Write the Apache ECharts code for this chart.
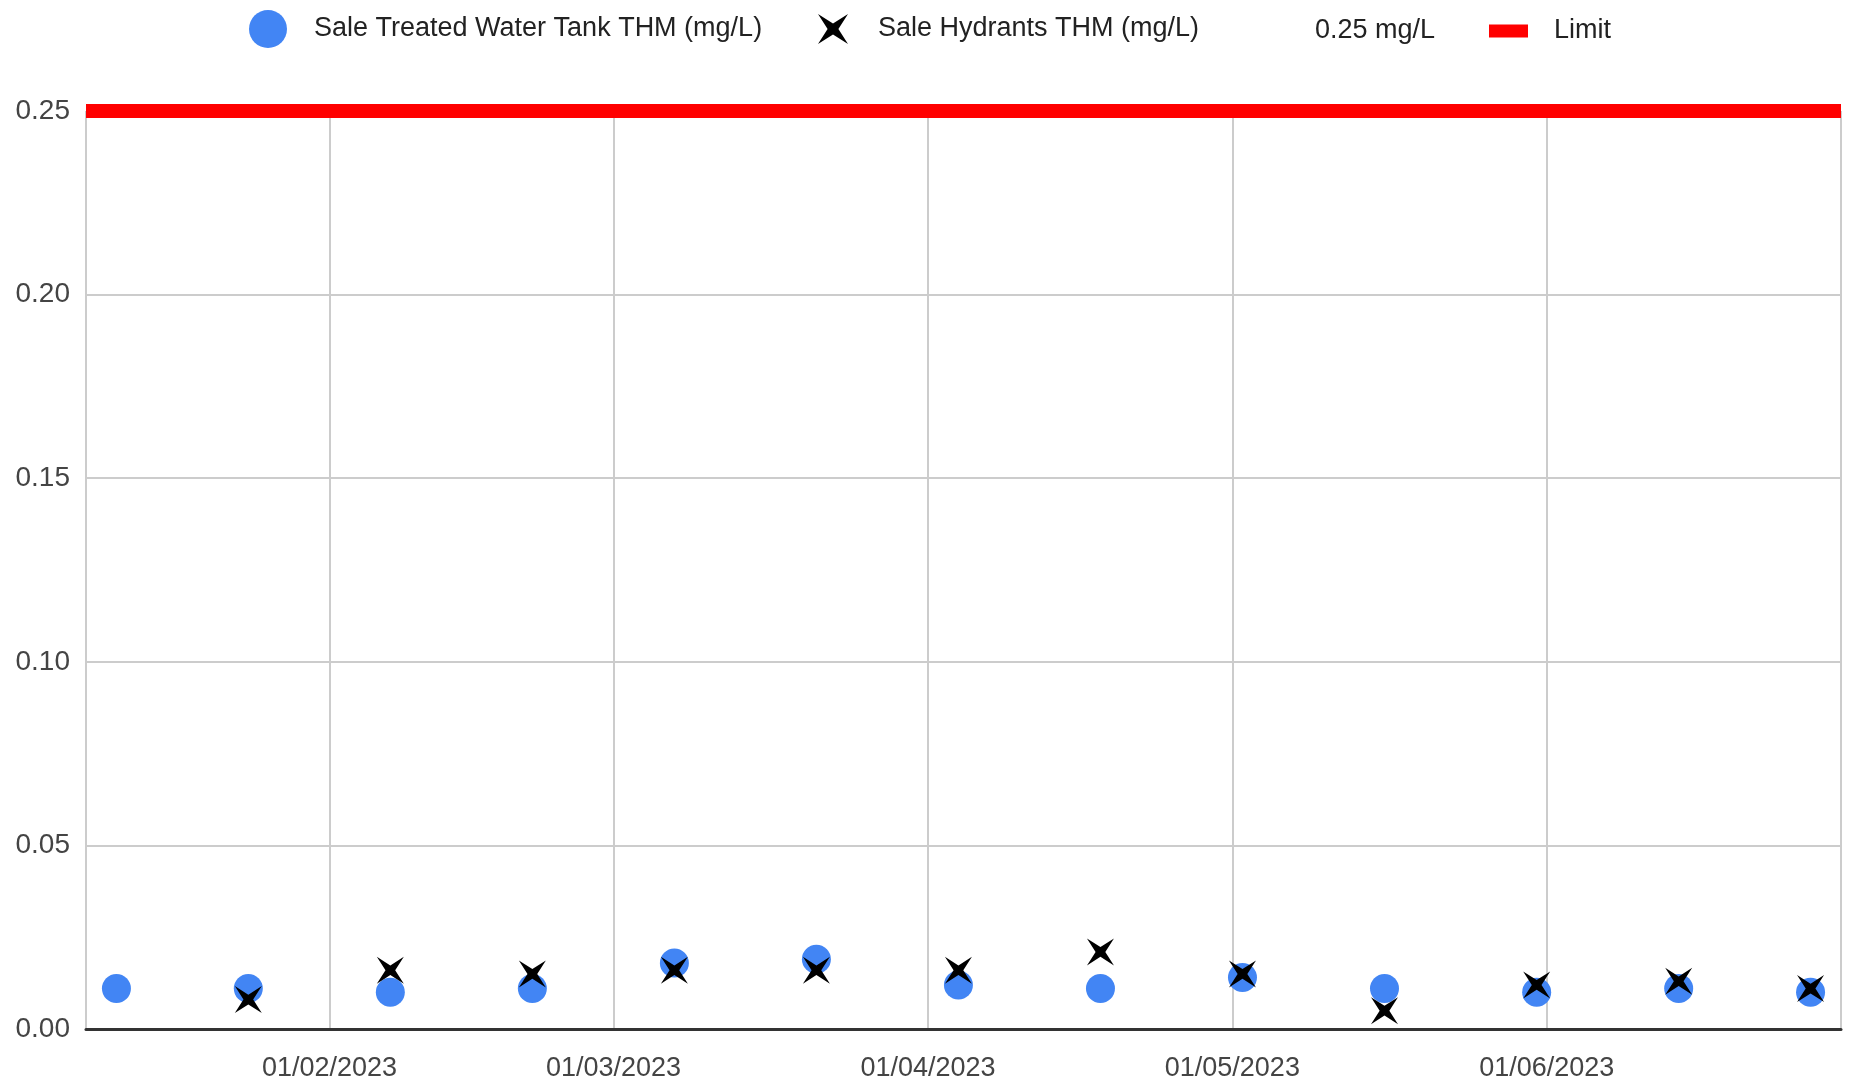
<!DOCTYPE html>
<html>
<head>
<meta charset="utf-8">
<script src="https://cdn.jsdelivr.net/npm/echarts@6/dist/echarts.min.js"></script>
<style>
html,body{margin:0;padding:0;background:#fff;}
#chart{width:1849px;height:1087px;}
</style>
</head>
<body>
<div id="chart"></div>
<script>
const dates = ['2023-01-11','2023-01-24','2023-02-07','2023-02-21','2023-03-07','2023-03-21','2023-04-04','2023-04-18','2023-05-02','2023-05-16','2023-05-31','2023-06-14','2023-06-27'];
const tankTHM = [0.011,0.011,0.010,0.011,0.018,0.019,0.012,0.011,0.014,0.011,0.010,0.011,0.010];
const hydrantTHM = [null,0.008,0.016,0.015,0.016,0.016,0.016,0.021,0.015,0.005,0.012,0.013,0.011];
const limitDates = ['2023-01-08','2023-06-30'];
const limitValues = [0.25,0.25];
const yTicks = [0,0.05,0.10,0.15,0.20,0.25];
const seriesNames = ['Sale Treated Water Tank THM (mg/L)','Sale Hydrants THM (mg/L)','0.25 mg/L','Limit'];

const FONT = "'Liberation Sans Narrow', 'Liberation Sans', Arial, sans-serif";
const XPATH = 'path://M0,0 L50,32 L100,0 L68,50 L100,100 L50,68 L0,100 L32,50 Z';

const pair = (xs, ys) => xs.map((d,i) => [d, ys[i]]);

const chart = echarts.init(document.getElementById('chart'), null, {renderer:'canvas'});
const legendText = {fontFamily: FONT, fontSize: 27, lineHeight: 30, color: '#222'};
chart.setOption({
  animation: false,
  backgroundColor: '#fff',
  textStyle: {fontFamily: FONT},
  legend: [
    {left: 249, top: 10, padding: 0, itemWidth: 38, itemHeight: 38, selectedMode: false,
     data: [{name: seriesNames[0], icon: 'circle'}],
     textStyle: Object.assign({padding: [4,0,0,22]}, legendText)},
    {left: 818, top: 12, padding: 0, itemWidth: 30, itemHeight: 30, selectedMode: false,
     data: [{name: seriesNames[1], icon: XPATH}],
     textStyle: Object.assign({padding: [4,0,0,25]}, legendText)},
    {left: 1300, top: 16, padding: 0, itemWidth: 10, itemHeight: 14, selectedMode: false,
     data: [{name: seriesNames[2], icon: 'none'}],
     textStyle: Object.assign({padding: [0,0,0,0]}, legendText)},
    {left: 1489, top: 16, padding: 0, itemWidth: 39, itemHeight: 13, selectedMode: false,
     data: [{name: seriesNames[3], icon: 'rect'}],
     textStyle: Object.assign({padding: [0,0,0,21]}, legendText)}
  ],
  grid: {left: 86, right: 8, top: 111, bottom: 58, containLabel: false},
  xAxis: {
    type: 'time',
    min: limitDates[0],
    max: limitDates[1],
    minInterval: 28*24*3600*1000,
    maxInterval: 31*24*3600*1000,
    axisLine: {show: true, onZero: true, lineStyle: {color: '#333', width: 3}},
    axisTick: {show: false},
    splitLine: {show: true, lineStyle: {color: '#cccccc', width: 2}},
    axisLabel: {
      fontFamily: FONT, fontSize: 27, color: '#444', margin: 26,
      formatter: '{dd}/{MM}/{yyyy}',
      hideOverlap: false
    }
  },
  yAxis: {
    type: 'value',
    min: yTicks[0],
    max: yTicks[yTicks.length-1],
    interval: 0.05,
    axisLine: {show: false},
    axisTick: {show: false},
    splitLine: {show: true, lineStyle: {color: '#cccccc', width: 2}},
    axisLabel: {
      fontFamily: FONT, fontSize: 28, color: '#444', margin: 16,
      formatter: v => v.toFixed(2)
    }
  },
  series: [
    {
      name: seriesNames[3], type: 'line', z: 3,
      data: pair(limitDates, limitValues),
      symbol: 'none',
      lineStyle: {color: '#ff0000', width: 14},
      itemStyle: {color: '#ff0000'}
    },
    {
      name: seriesNames[2], type: 'line', z: 1, silent: true,
      data: pair(limitDates, limitValues),
      symbol: 'none',
      lineStyle: {opacity: 0, width: 0},
      itemStyle: {color: '#ffffff', opacity: 0}
    },
    {
      name: seriesNames[0], type: 'scatter', z: 4,
      data: pair(dates, tankTHM),
      symbol: 'circle', symbolSize: 29,
      itemStyle: {color: '#4285f4', opacity: 1}
    },
    {
      name: seriesNames[1], type: 'scatter', z: 5,
      data: pair(dates, hydrantTHM).filter(p => p[1] !== null),
      symbol: XPATH, symbolSize: 27,
      itemStyle: {color: '#000000', opacity: 1}
    }
  ]
});
</script>
</body>
</html>
